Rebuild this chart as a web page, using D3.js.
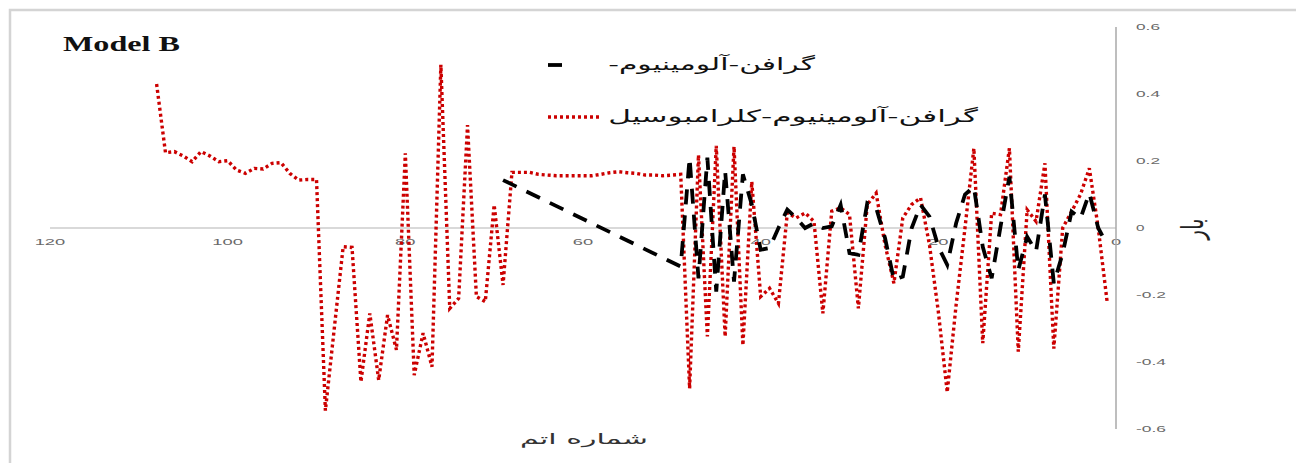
<!DOCTYPE html>
<html><head><meta charset="utf-8">
<script src="https://cdn.jsdelivr.net/npm/d3@7"></script>
<style>html,body{margin:0;padding:0;background:#fff;overflow:hidden}</style>
</head><body>
<svg id="chart" width="1296" height="463"></svg>
<script>
// Axis ticks: atom number (reversed axis) and charge
const xTicks = [120, 100, 80, 60, 40, 20, 0];
const yTicks = [0.6, 0.4, 0.2, 0, -0.2, -0.4, -0.6];
const seriesNames = ["گرافن-آلومینیوم-", "گرافن-آلومینیوم-کلرامبوسیل"];
const xTitle = "شماره اتم";
const yTitle = "بار";
const panelTitle = "Model B";

// Graphene–aluminium: atom numbers and charges
const alAtoms = [69, 49, 48, 47, 46, 45, 44, 43, 42, 41, 40, 39, 38, 37, 36, 35, 34, 33, 32, 31, 30,
  29, 28, 27, 26, 25, 24, 23, 22, 21, 20, 19, 18, 17, 16, 15, 14, 13, 12, 11, 10, 9, 8, 7, 6, 5, 4, 3, 2, 1];
const alCharge = [0.143, -0.115, 0.21, -0.15, 0.21, -0.19, 0.17, -0.16, 0.16, 0.07, -0.065, -0.06,
  0.0, 0.055, 0.03, 0.0, 0.014, 0.0, 0.005, 0.069, -0.075, -0.08, 0.074, 0.06, -0.03, -0.155, -0.145,
  0.0, 0.069, 0.034, -0.056, -0.11, 0.014, 0.1, 0.123, -0.056, -0.15, 0.004, 0.153, -0.125, -0.026,
  -0.07, 0.1, -0.165, -0.076, 0.049, 0.029, 0.104, 0.0, -0.05];

// Graphene–aluminium–chlorambucil: atom numbers 108 down to 1 and charges
const clbAtoms = [108, 107, 106, 105, 104, 103, 102, 101, 100, 99, 98, 97, 96, 95, 94, 93, 92, 91, 90,
  89, 88, 87, 86, 85, 84, 83, 82, 81, 80, 79, 78, 77, 76, 75, 74, 73, 72, 71, 70, 69, 68, 67, 66, 65,
  64, 63, 62, 61, 60, 59, 58, 57, 56, 55, 54, 53, 52, 51, 50, 49, 48, 47, 46, 45, 44, 43, 42, 41, 40,
  39, 38, 37, 36, 35, 34, 33, 32, 31, 30, 29, 28, 27, 26, 25, 24, 23, 22, 21, 20, 19, 18, 17, 16, 15,
  14, 13, 12, 11, 10, 9, 8, 7, 6, 5, 4, 3, 2, 1];
const clbCharge = [0.43, 0.225, 0.228, 0.215, 0.198, 0.228, 0.215, 0.198, 0.201, 0.173, 0.163, 0.178,
  0.176, 0.193, 0.195, 0.163, 0.143, 0.145, 0.145,
  -0.545, -0.30, -0.056, -0.058, -0.459, -0.255, -0.454, -0.26, -0.364, 0.223, -0.439, -0.314, -0.414,
  0.487, -0.24, -0.21, 0.307, -0.205, -0.22, 0.069, -0.17,
  0.166, 0.166, 0.166, 0.16, 0.158, 0.156, 0.156, 0.156, 0.156, 0.156, 0.16, 0.165, 0.168, 0.165,
  0.163, 0.158, 0.158, 0.156, 0.158, 0.16,
  -0.479, 0.218, -0.324, 0.245, -0.324, 0.243, -0.35, 0.138, -0.205, -0.18, -0.225, 0.045, 0.03,
  0.045, 0.02, -0.255, 0.05, 0.06, 0.04, -0.24, 0.07, 0.104, -0.05, -0.165, 0.03, 0.07, 0.09, -0.05,
  -0.25, -0.49, -0.23, 0.0, 0.238, -0.344, 0.044, 0.04, 0.238, -0.369, 0.054, 0.02, 0.193, -0.36,
  0.0, 0.049, 0.1, 0.178, 0.0, -0.22];

const svg = d3.select("#chart");

// chart frame
svg.append("rect").attr("x", 10).attr("y", 10).attr("width", 1300).attr("height", 470)
  .attr("fill", "none").attr("stroke", "#d4d4d4").attr("stroke-width", 2.5);

const x = d3.scaleLinear().domain([120, 0]).range([50, 1116]);
const y = d3.scaleLinear().domain([0.6, -0.6]).range([27, 429]);

// stretch a right-aligned text node horizontally about its right edge
function fitWidth(sel, width, rightX) {
  const w = sel.node().getComputedTextLength();
  const s = width / w;
  sel.attr("transform", `translate(${rightX},0) scale(${s},1) translate(${-rightX},0)`);
}

// x tick labels (sit under the data)
const xt = svg.append("g").attr("font-family", "Liberation Sans, Arial, sans-serif")
  .attr("font-size", 9.5).attr("fill", "#6a6a6a");
xTicks.forEach(t => {
  const s = String(t);
  xt.append("text").attr("x", x(t)).attr("y", 245).attr("text-anchor", "middle")
    .attr("textLength", s.length * 10.2).attr("lengthAdjust", "spacingAndGlyphs").text(s);
});

// y tick labels on the right
const yt = svg.append("g").attr("font-family", "Liberation Sans, Arial, sans-serif")
  .attr("font-size", 9.5).attr("fill", "#6a6a6a");
yTicks.forEach(t => {
  const s = t === 0 ? "0" : d3.format(".1f")(t).replace("−", "-");
  const w = s.length === 1 ? 8.5 : (s.length === 3 ? 24 : 30);
  yt.append("text").attr("x", 1136).attr("y", y(t) + 3.3)
    .attr("textLength", w).attr("lengthAdjust", "spacingAndGlyphs").text(s);
});

// axes lines
svg.append("line").attr("x1", x(120)).attr("x2", x(0)).attr("y1", y(0)).attr("y2", y(0))
  .attr("stroke", "#b4b4b4").attr("stroke-width", 1.2);
svg.append("line").attr("x1", x(0)).attr("x2", x(0)).attr("y1", y(0.6)).attr("y2", y(-0.6))
  .attr("stroke", "#a8a8a8").attr("stroke-width", 1.5);

// series
const line = d3.line().x(d => x(d[0])).y(d => y(d[1]));
const clbData = clbAtoms.map((a, i) => [a, clbCharge[i]]);
const alData = alAtoms.map((a, i) => [a, alCharge[i]]);

svg.append("path").attr("d", line(clbData)).attr("fill", "none")
  .attr("stroke", "#cc0000").attr("stroke-width", 3.4).attr("stroke-dasharray", "3,3");
svg.append("path").attr("d", line(alData)).attr("fill", "none")
  .attr("stroke", "#000").attr("stroke-width", 3.8).attr("stroke-dasharray", "15,11");

// panel title
svg.append("text").attr("x", 63).attr("y", 51).attr("font-family", "Liberation Serif, Times New Roman, serif")
  .attr("font-weight", "bold").attr("font-size", 20).attr("fill", "#111")
  .attr("textLength", 117).attr("lengthAdjust", "spacingAndGlyphs").text(panelTitle);

// legend
svg.append("line").attr("x1", 548).attr("x2", 562).attr("y1", 65).attr("y2", 65)
  .attr("stroke", "#000").attr("stroke-width", 3.8);
svg.append("line").attr("x1", 548).attr("x2", 602).attr("y1", 117).attr("y2", 117)
  .attr("stroke", "#cc0000").attr("stroke-width", 3.4).attr("stroke-dasharray", "3,3");

const fa = "DejaVu Sans, sans-serif";
// with direction rtl, "start" puts the right edge of the text at x
const l1 = svg.append("text").attr("x", 815).attr("y", 70).attr("text-anchor", "start")
  .attr("direction", "rtl").attr("font-family", fa).attr("font-size", 17).attr("fill", "#111")
  .text(seriesNames[0]);
fitWidth(l1, 207, 815);
const l2 = svg.append("text").attr("x", 978).attr("y", 122).attr("text-anchor", "start")
  .attr("direction", "rtl").attr("font-family", fa).attr("font-size", 17).attr("fill", "#111")
  .text(seriesNames[1]);
fitWidth(l2, 370, 978);

// axis titles
const xtTitle = svg.append("text").attr("x", 648).attr("y", 444).attr("text-anchor", "start")
  .attr("direction", "rtl").attr("font-family", fa).attr("font-size", 15).attr("fill", "#333")
  .text(xTitle);
fitWidth(xtTitle, 128, 648);

svg.append("text").attr("transform", "translate(1203,229) scale(1.5,1) rotate(-90)")
  .attr("text-anchor", "middle").attr("font-family", fa).attr("font-size", 20).attr("fill", "#222")
  .text(yTitle);
</script>
</body></html>
